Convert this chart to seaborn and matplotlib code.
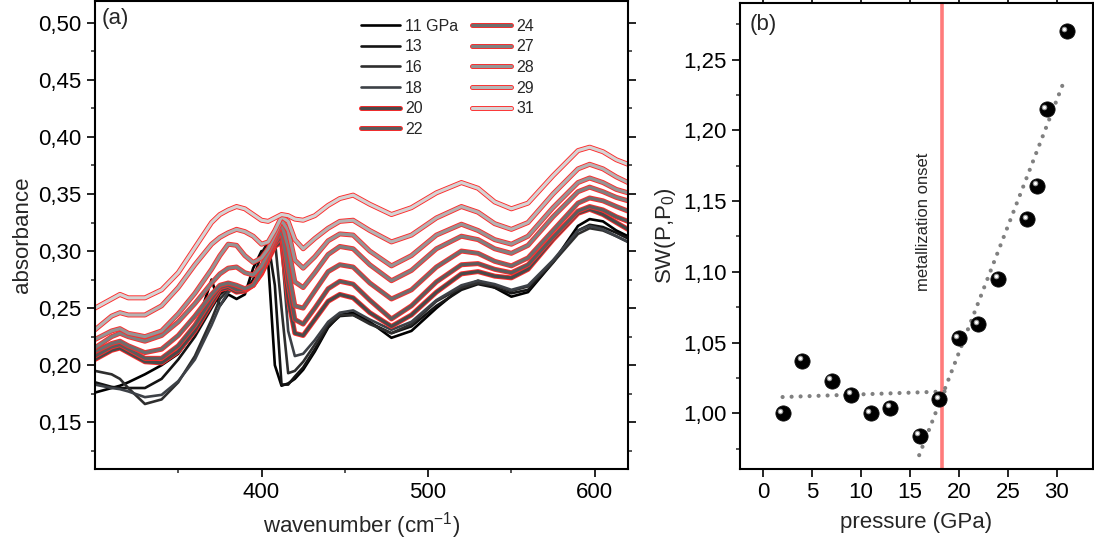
import numpy as np
import pandas as pd
import matplotlib
matplotlib.use('Agg')
import matplotlib.pyplot as plt
import matplotlib.patheffects as pe
from matplotlib.ticker import MultipleLocator, FixedLocator, FuncFormatter
from matplotlib.transforms import offset_copy
import seaborn as sns

# ---- panel (a): absorbance spectra ----
wavenumber = [300, 310, 315, 320, 330, 340, 350, 360, 370, 375, 380, 385, 390, 395,
              400, 404, 408, 412, 416, 420, 425, 432, 440, 447, 455, 465, 478, 490,
              505, 520, 530, 540, 550, 560, 575, 590, 597, 605, 613, 620]

abs_11 = [0.176, 0.180, 0.182, 0.185, 0.192, 0.200, 0.210, 0.230, 0.275, 0.252, 0.262, 0.258,
          0.262, 0.285, 0.300, 0.290, 0.200, 0.182, 0.184, 0.188, 0.196, 0.212, 0.233, 0.244,
          0.246, 0.238, 0.224, 0.230, 0.250, 0.268, 0.274, 0.268, 0.260, 0.264, 0.290, 0.322,
          0.328, 0.326, 0.318, 0.313]
abs_13 = [0.185, 0.181, 0.180, 0.180, 0.180, 0.188, 0.205, 0.225, 0.250, 0.262, 0.268, 0.270,
          0.265, 0.275, 0.298, 0.308, 0.270, 0.183, 0.183, 0.190, 0.198, 0.214, 0.234, 0.243,
          0.244, 0.237, 0.228, 0.234, 0.252, 0.266, 0.271, 0.268, 0.263, 0.266, 0.290, 0.318,
          0.323, 0.321, 0.316, 0.311]
abs_16 = [0.195, 0.192, 0.188, 0.180, 0.166, 0.170, 0.185, 0.208, 0.240, 0.258, 0.266, 0.268,
          0.264, 0.270, 0.285, 0.300, 0.310, 0.250, 0.193, 0.195, 0.203, 0.218, 0.236, 0.244,
          0.244, 0.236, 0.228, 0.236, 0.256, 0.268, 0.272, 0.270, 0.265, 0.269, 0.290, 0.315,
          0.320, 0.318, 0.313, 0.308]
abs_18 = [0.183, 0.180, 0.179, 0.177, 0.172, 0.174, 0.186, 0.205, 0.235, 0.252, 0.264, 0.268,
          0.266, 0.270, 0.283, 0.295, 0.310, 0.305, 0.230, 0.208, 0.210, 0.222, 0.238, 0.246,
          0.248, 0.240, 0.231, 0.238, 0.257, 0.270, 0.274, 0.271, 0.266, 0.270, 0.292, 0.318,
          0.322, 0.319, 0.313, 0.308]
abs_20 = [0.205, 0.213, 0.215, 0.211, 0.203, 0.202, 0.212, 0.230, 0.254, 0.266, 0.268, 0.264,
          0.265, 0.270, 0.280, 0.292, 0.304, 0.308, 0.258, 0.228, 0.226, 0.240, 0.256, 0.262,
          0.259, 0.246, 0.234, 0.244, 0.264, 0.280, 0.282, 0.278, 0.2765, 0.284, 0.310, 0.333,
          0.3366, 0.332, 0.325, 0.319]
abs_22 = [0.208, 0.216, 0.218, 0.214, 0.206, 0.206, 0.217, 0.235, 0.258, 0.268, 0.270, 0.266,
          0.266, 0.270, 0.281, 0.294, 0.306, 0.313, 0.272, 0.240, 0.236, 0.250, 0.267, 0.2735,
          0.271, 0.257, 0.2405, 0.252, 0.273, 0.288, 0.289, 0.284, 0.281, 0.288, 0.312, 0.335,
          0.339, 0.336, 0.330, 0.326]
abs_24 = [0.212, 0.219, 0.221, 0.217, 0.211, 0.214, 0.226, 0.243, 0.262, 0.270, 0.272, 0.270,
          0.267, 0.270, 0.282, 0.295, 0.308, 0.318, 0.284, 0.252, 0.250, 0.265, 0.282, 0.288,
          0.286, 0.272, 0.258, 0.266, 0.286, 0.300, 0.298, 0.291, 0.287, 0.294, 0.318, 0.342,
          0.3465, 0.344, 0.339, 0.335]
abs_27 = [0.2152, 0.225, 0.228, 0.225, 0.221, 0.226, 0.238, 0.254, 0.272, 0.280, 0.285, 0.286,
          0.281, 0.279, 0.287, 0.298, 0.311, 0.324, 0.304, 0.273, 0.268, 0.281, 0.297, 0.304,
          0.302, 0.288, 0.274, 0.283, 0.302, 0.313, 0.310, 0.302, 0.298, 0.305, 0.330, 0.352,
          0.356, 0.352, 0.347, 0.344]
abs_28 = [0.2225, 0.230, 0.232, 0.228, 0.225, 0.230, 0.245, 0.263, 0.284, 0.296, 0.306, 0.305,
          0.296, 0.290, 0.294, 0.302, 0.314, 0.327, 0.318, 0.292, 0.285, 0.295, 0.309, 0.315,
          0.314, 0.300, 0.287, 0.296, 0.314, 0.3235, 0.318, 0.310, 0.306, 0.313, 0.338, 0.360,
          0.364, 0.360, 0.354, 0.351]
abs_29 = [0.231, 0.243, 0.246, 0.244, 0.244, 0.252, 0.268, 0.288, 0.306, 0.312, 0.316, 0.319,
          0.317, 0.313, 0.306, 0.308, 0.318, 0.330, 0.326, 0.310, 0.302, 0.311, 0.320, 0.326,
          0.327, 0.318, 0.308, 0.314, 0.329, 0.339, 0.334, 0.324, 0.319, 0.325, 0.350, 0.372,
          0.376, 0.372, 0.365, 0.360]
abs_31 = [0.250, 0.258, 0.262, 0.259, 0.259, 0.266, 0.281, 0.303, 0.325, 0.332, 0.336, 0.339,
          0.337, 0.332, 0.327, 0.326, 0.329, 0.332, 0.331, 0.328, 0.327, 0.331, 0.340, 0.346,
          0.349, 0.341, 0.332, 0.338, 0.351, 0.360, 0.355, 0.343, 0.337, 0.342, 0.366, 0.388,
          0.391, 0.387, 0.380, 0.376]

spectra_labels = ['11 GPa', '13', '16', '18', '20', '22', '24', '27', '28', '29', '31']
spectra = [abs_11, abs_13, abs_16, abs_18, abs_20, abs_22, abs_24, abs_27, abs_28, abs_29, abs_31]
line_colors = ['#000000', '#141414', '#2e2e2e', '#3d4147', '#4a4a4a', '#5c5c5c',
               '#6e6e6e', '#808080', '#959595', '#b4b4b4', '#d4d4d4']
red_edge = [False, False, False, False, True, True, True, True, True, True, True]

# ---- panel (b): spectral weight vs pressure ----
sw_pressure = [2, 4, 7, 9, 11, 13, 16, 18, 20, 22, 24, 27, 28, 29, 31]
sw_values = [1.000, 1.037, 1.023, 1.013, 1.000, 1.004, 0.984, 1.010, 1.053, 1.063,
             1.095, 1.137, 1.161, 1.215, 1.270]
fit_low_p = [2.0, 18.9]
fit_low_sw = [1.0115, 1.0155]
fit_high_p = [15.95, 30.6]
fit_high_sw = [0.9704, 1.2322]
onset_p = 18.3

sns.set_style('ticks')
plt.rcParams['font.family'] = ['Liberation Sans', 'DejaVu Sans']
plt.rcParams['mathtext.fontset'] = 'custom'
plt.rcParams['mathtext.rm'] = 'Liberation Sans'

fig = plt.figure(figsize=(10.94, 5.41), dpi=100)
ax1 = fig.add_axes([0.0868, 0.133, 0.4872, 0.865])
ax2 = fig.add_axes([0.6764, 0.133, 0.3227, 0.862])

comma = FuncFormatter(lambda v, pos: ('%.2f' % v).replace('.', ','))

# spectra
rows = []
for lab, vals in zip(spectra_labels, spectra):
    for w, a in zip(wavenumber, vals):
        rows.append((w, a, lab))
df = pd.DataFrame(rows, columns=['wavenumber', 'absorbance', 'pressure'])

for lab, col, edge in zip(spectra_labels, line_colors, red_edge):
    sub = df[df['pressure'] == lab]
    lw = 2.3 if edge else 1.9
    sns.lineplot(data=sub, x='wavenumber', y='absorbance', color=col, lw=lw,
                 ax=ax1, label=lab, legend=False)
    if edge:
        ax1.lines[-1].set_path_effects([pe.Stroke(linewidth=lw + 1.3, foreground='#ff2a2a'),
                                        pe.Normal()])

ax1.set_xlim(300, 620)
ax1.set_ylim(0.109, 0.519)
ax1.xaxis.set_major_locator(FixedLocator([400, 500, 600]))
ax1.xaxis.set_minor_locator(FixedLocator([350, 450, 550]))
ax1.yaxis.set_major_locator(MultipleLocator(0.05))
ax1.yaxis.set_minor_locator(MultipleLocator(0.025))
ax1.yaxis.set_major_formatter(comma)
ax1.set_xlabel('wavenumber (cm$^{-1}$)', fontsize=16, labelpad=5)
ax1.set_ylabel('absorbance', fontsize=16, labelpad=4)
ax1.text(0.012, 0.985, '(a)', transform=ax1.transAxes, fontsize=16, va='top', ha='left')

handles, labels = ax1.get_legend_handles_labels()
ax1.legend(handles, labels, ncol=2, frameon=False, fontsize=11.5, loc='upper left',
           bbox_to_anchor=(0.499, 0.962), borderaxespad=0, borderpad=0,
           handlelength=2.45, handletextpad=0.3, columnspacing=0.9, labelspacing=0.35)

# spectral weight
ax2.axvline(onset_p, color='#ff7b7b', lw=2.6, zorder=1)
ax2.text(16.4, 1.135, 'metallization onset', rotation=90, fontsize=12,
         ha='center', va='center')
sns.lineplot(x=fit_low_p, y=fit_low_sw, ax=ax2, color='#808080', lw=3.0,
             linestyle=(0, (0.01, 2.15)), dash_capstyle='round', zorder=2)
sns.lineplot(x=fit_high_p, y=fit_high_sw, ax=ax2, color='#808080', lw=3.0,
             linestyle=(0, (0.01, 2.15)), dash_capstyle='round', zorder=2)
sns.scatterplot(x=sw_pressure, y=sw_values, ax=ax2, s=120, color='black',
                edgecolor='#111111', linewidth=0.6, zorder=3)
shine = offset_copy(ax2.transData, fig=fig, x=-2.5, y=2.5, units='dots')
ax2.scatter(sw_pressure, sw_values, s=16, color='#9a9a9a', lw=0, transform=shine, zorder=4)
ax2.scatter(sw_pressure, sw_values, s=5, color='white', lw=0, transform=shine, zorder=5)

ax2.set_xlim(-2.35, 33.7)
ax2.set_ylim(0.9606, 1.2902)
ax2.xaxis.set_major_locator(MultipleLocator(5))
ax2.yaxis.set_major_locator(MultipleLocator(0.05))
ax2.yaxis.set_minor_locator(MultipleLocator(0.025))
ax2.yaxis.set_major_formatter(comma)
ax2.set_xlabel('pressure (GPa)', fontsize=16, labelpad=6)
ax2.set_ylabel('SW(P,P$_0$)', fontsize=16, labelpad=4)
ax2.text(0.028, 0.975, '(b)', transform=ax2.transAxes, fontsize=16, va='top', ha='left')

for ax in (ax1, ax2):
    for s in ax.spines.values():
        s.set_linewidth(1.5)
        s.set_color('black')
    ax.tick_params(which='major', direction='out', length=6, width=1.2, labelsize=16,
                   top=True, right=True, colors='black')
    ax.tick_params(which='minor', direction='out', length=3, width=1.1,
                   top=True, right=True)

fig.savefig('out.png', dpi=100)
